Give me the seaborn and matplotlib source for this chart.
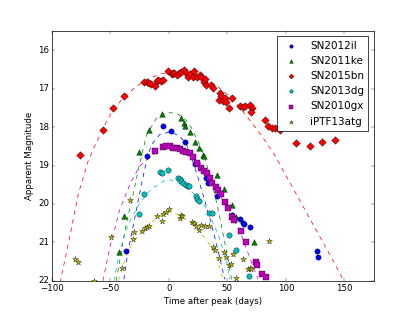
import numpy as np
import pandas as pd
import seaborn as sns
import matplotlib
matplotlib.use('Agg')
import matplotlib.pyplot as plt

# Data (time after peak in days, apparent magnitude)
t_2012il = [-36.5, -19, -5, 2.2, 13.8, 22.8, 31.5, 33.8, 40.8, 54.1, 60.5, 63.5, 64.5, 69.3, 127, 127.4]
m_2012il = [21.23, 18.75, 17.98, 18.1, 18.39, 18.97, 19.33, 19.46, 19.8, 20.28, 20.39, 20.49, 20.53, 20.6, 21.22, 21.38]

t_2011ke = [-42.5, -38.3, -25.2, -17.1, -6.2, 10.8, 13.2, 13.7, 17.7, 22, 25.6, 29, 30, 41.5, 46.8, 53.8, 57.5, 72.6]
m_2011ke = [21.24, 20.31, 18.64, 18.08, 17.65, 17.75, 17.9, 17.96, 18.13, 18.39, 18.54, 18.72, 18.75, 19.25, 19.62, 20.03, 20.34, 20.99]

t_2015bn = [-76, -56.7, -48, -38.7, -21, -19, -17.1, -15.4, -12, -10.5,
            -9, -7, -5, -0.6, 2.3, 3.7, 4.5, 6.6, 8.5, 10.8,
            13.1, 15.1, 16, 18, 20.8, 21.7, 24.5, 26.5, 27.9, 30.2,
            30.8, 32.2, 35.9, 37.9, 42.7, 43.6, 45, 46.4, 47.9, 49.3,
            51.3, 54.1, 60.7, 63.5, 65, 69.3, 70.7, 69.9, 82.6, 85,
            87.8, 91, 95, 109, 120.5, 131, 142.5]
m_2015bn = [18.73, 18.06, 17.5, 17.2, 16.81, 16.81, 16.85, 16.87, 16.94, 16.8,
            16.76, 16.8, 16.78, 16.53, 16.61, 16.59, 16.59, 16.63, 16.59, 16.55,
            16.52, 16.59, 16.68, 16.61, 16.68, 16.53, 16.7, 16.63, 16.68, 16.81,
            16.74, 16.89, 16.89, 16.98, 17.28, 17.11, 17.19, 17.31, 17.25, 17.34,
            17.5, 17.25, 17.45, 17.48, 17.44, 17.43, 17.5, 17.6, 17.8, 17.96,
            18.02, 18.02, 18.06, 18.4, 18.49, 18.39, 18.33]

t_2013dg = [-25.4, -21.4, -7.7, -5.7, -1.1, 8, 9.4, 10.5, 11.8, 14.5, 16.2, 17.5, 23, 24, 25.6, 34.2, 37.3, 51.4, 57.5, 68.4]
m_2013dg = [20.27, 19.73, 19.17, 19.19, 19.11, 19.31, 19.35, 19.4, 19.45, 19.5, 19.53, 19.53, 19.8, 19.87, 19.92, 20.23, 20.23, 20.82, 21.2, 21.88]

t_2010gx = [-12, -4.8, -2, 0.9, 3.7, 6.6, 9.4, 12.2, 15.1, 18,
            20.8, 24, 27.4, 30.2, 32.8, 35, 37.3, 40, 42, 44.2,
            47.9, 50.7, 53.6, 55.8, 61.5, 66.4, 74.9, 75.5, 80, 83.5]
m_2010gx = [18.63, 18.52, 18.49, 18.49, 18.54, 18.55, 18.58, 18.62, 18.64, 18.68,
            18.78, 18.92, 19.05, 19.14, 19.2, 19.33, 19.45, 19.55, 19.64, 19.73,
            19.94, 20.1, 20.35, 20.42, 20.7, 20.99, 21.51, 21.58, 21.81, 21.9]

t_13atg = [-80.6, -77.8, -64.4, -49.3, -40.2, -33.3, -30.5, -29.4, -23.1, -20.8,
           -18.8, -16.8, -10.5, -5.7, -4.9, -2, 0, 9.7, 10.8, 11.4,
           19.9, 21.6, 23.6, 25.9, 27.9, 30.8, 34.4, 37.6, 39.7, 42.8,
           47, 49.3, 51.5, 53.3, 55, 57.3, 63.5, 67.5, 69.3, 70.5, 85.5]
m_13atg = [21.44, 21.5, 22.0, 20.87, 21.67, 19.9, 20.9, 20.74, 20.7, 20.63,
           20.6, 20.58, 20.31, 20.43, 20.25, 20.2, 20.14, 20.36, 20.29, 20.31,
           20.46, 20.49, 20.57, 20.68, 20.55, 20.57, 20.57, 21.13, 21.21, 21.41,
           21.26, 21.38, 21.6, 21.55, 21.31, 21.93, 21.42, 21.7, 21.66, 21.68, 20.96]

# dashed model curves
fit_t_2015bn = [-93, -85, -77.5, -69, -62, -56, -48, -38, -28, -18, -8, 2, 12, 22, 32, 42, 52, 61, 70, 80, 90, 100, 110, 120, 130, 140, 149]
fit_m_2015bn = [22.05, 20.9, 19.75, 18.88, 18.4, 18.02, 17.56, 17.2, 16.94, 16.75, 16.62, 16.56, 16.56, 16.62, 16.75, 16.95, 17.2, 17.5, 17.85, 18.25, 18.7, 19.25, 19.8, 20.35, 20.9, 21.45, 21.97]

fit_t_2011ke = [-45, -41, -37.6, -34, -30.5, -25.4, -19, -10.5, -4, 1.5, 7, 10.8, 15, 19.4, 23, 27.9, 32, 36.5, 40, 43.6, 46.5, 49.3, 53.6]
fit_m_2011ke = [22.0, 21.3, 20.7, 20.2, 19.75, 19.01, 18.2, 17.76, 17.65, 17.62, 17.65, 17.71, 17.83, 18.02, 18.25, 18.54, 18.95, 19.4, 19.85, 20.35, 20.8, 21.22, 21.96]

fit_t_2012il = [-38.5, -34.8, -29, -23.4, -19.1, -14.8, -7.7, 0.9, 9.4, 15.1, 20, 25, 30.8, 36.5, 42.1, 47.9]
fit_m_2012il = [21.96, 21.22, 20.35, 19.49, 18.88, 18.45, 18.19, 18.12, 18.23, 18.45, 18.85, 19.32, 19.92, 20.53, 21.22, 21.96]

fit_t_2013dg = [-47, -41.9, -34.8, -24.8, -14.8, -10.5, -3, 3, 8, 15, 22.2, 30.8, 36.5, 42.1, 49.3, 52.1]
fit_m_2013dg = [22.0, 21.22, 20.53, 19.97, 19.6, 19.53, 19.37, 19.38, 19.45, 19.58, 19.75, 20.05, 20.4, 20.79, 21.48, 21.96]

fit_t_2010gx = [-56.4, -50.4, -41.9, -32.8, -24.8, -15, -5, 5, 15, 25, 35, 45, 53, 60.7, 68, 76.3]
fit_m_2010gx = [22.0, 21.13, 20.14, 19.45, 19.01, 18.75, 18.55, 18.5, 18.58, 18.85, 19.3, 19.85, 20.3, 20.7, 21.3, 21.96]

fit_t_13atg = [-43, -38, -35, -32, -25, -18, -12, -6, 0, 6, 16.5, 25, 33.6, 40.8, 46.4]
fit_m_13atg = [22.0, 21.5, 21.26, 21.05, 20.78, 20.55, 20.4, 20.3, 20.22, 20.25, 20.44, 20.66, 21.0, 21.39, 21.96]

plt.style.use('classic')
fig, ax = plt.subplots(figsize=(415 / 52, 6), dpi=52)
fig.patch.set_facecolor('white')

series = [
    ('SN2012il', t_2012il, m_2012il, fit_t_2012il, fit_m_2012il, 'b', 'o', 55),
    ('SN2011ke', t_2011ke, m_2011ke, fit_t_2011ke, fit_m_2011ke, 'g', '^', 60),
    ('SN2015bn', t_2015bn, m_2015bn, fit_t_2015bn, fit_m_2015bn, 'r', 'D', 55),
    ('SN2013dg', t_2013dg, m_2013dg, fit_t_2013dg, fit_m_2013dg, 'c', 'o', 55),
    ('SN2010gx', t_2010gx, m_2010gx, fit_t_2010gx, fit_m_2010gx, 'm', 's', 50),
    ('iPTF13atg', t_13atg, m_13atg, fit_t_13atg, fit_m_13atg, 'y', '*', 70),
]

for name, t, m, ft, fm, col, mk, size in series:
    sns.scatterplot(x=t, y=m, ax=ax, color=col, marker=mk, s=size,
                    edgecolor='k', linewidth=0.5, label=name, zorder=3)

for name, t, m, ft, fm, col, mk, size in series:
    sns.lineplot(x=ft, y=fm, ax=ax, color=col, linestyle='--', linewidth=1,
                 sort=False, estimator=None, legend=False)

ax.set_xlim(-100, 175)
ax.set_ylim(22, 15.5)
ax.set_xticks([-100, -50, 0, 50, 100, 150])
ax.set_yticks([16, 17, 18, 19, 20, 21, 22])
ax.tick_params(axis='x', pad=5)
ax.set_xlabel('Time after peak (days)')
ax.set_ylabel('Apparent Magnitude')
ax.legend(loc='upper right', scatterpoints=1, markerscale=0.65, fontsize='large')

fig.savefig('out.png', dpi=52, facecolor='white')
